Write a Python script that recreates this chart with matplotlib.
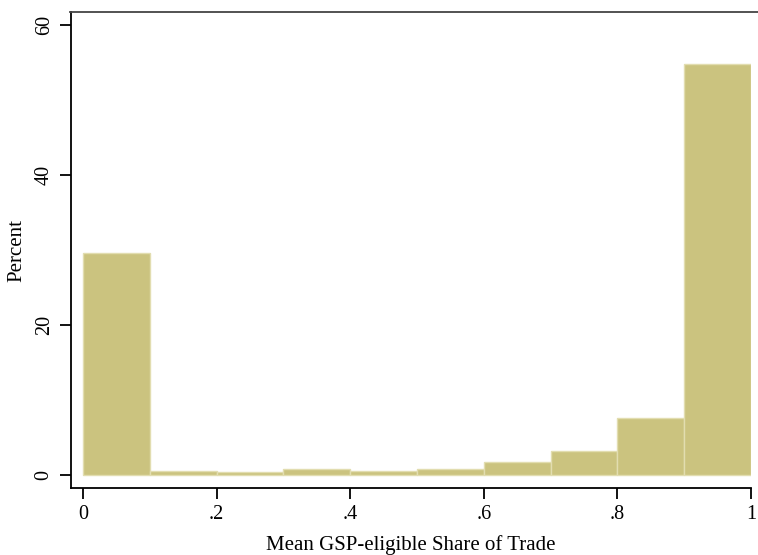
import matplotlib.pyplot as plt
from matplotlib.lines import Line2D
import numpy as np

plt.rcParams['font.family'] = ['Liberation Serif', 'DejaVu Serif']

bin_left = [0.0, 0.1, 0.2, 0.3, 0.4, 0.5, 0.6, 0.7, 0.8, 0.9]
percent = [29.6, 0.6, 0.45, 0.75, 0.6, 0.8, 1.7, 3.2, 7.65, 54.8]
xticks = [0, 0.2, 0.4, 0.6, 0.8, 1.0]
xticklabels = ['0', '.2', '.4', '.6', '.8', '1']
yticks = [0, 20, 40, 60]

W, H = 758, 555
fig = plt.figure(figsize=(W / 100, H / 100), dpi=100)
ax = fig.add_axes([71 / W, (H - 488) / H, (751 - 71) / W, (488 - 12) / H])

ax.bar(bin_left, percent, width=0.1, align='edge', color='#cbc37f',
       edgecolor='#e2ddb0', linewidth=1.0)

ax.set_xlim(-0.018, 1.0)
ax.set_ylim(-1.73, 61.7)
ax.set_xticks(xticks)
ax.set_xticklabels(xticklabels)
ax.set_yticks(yticks)
ax.set_yticklabels([str(v) for v in yticks], rotation=90, va='center')

for s in ['top', 'right']:
    ax.spines[s].set_visible(False)
for s in ['left', 'bottom']:
    ax.spines[s].set_linewidth(1.3)
ax.tick_params(axis='both', length=8, width=1.3, labelsize=14.5, pad=4.5)

ax.set_xlabel('Mean GSP-eligible Share of Trade', fontsize=15, va='baseline')
ax.xaxis.set_label_coords(0.5, (488 - 550) / 476)
ax.set_ylabel('Percent', fontsize=15, va='center')
ax.yaxis.set_label_coords((17 - 71) / 680, 0.5)

fig.add_artist(Line2D([70 / W, 1.0], [(H - 12) / H] * 2, transform=fig.transFigure,
                      color='#444444', linewidth=1.3))

fig.savefig('out.png', dpi=100)
